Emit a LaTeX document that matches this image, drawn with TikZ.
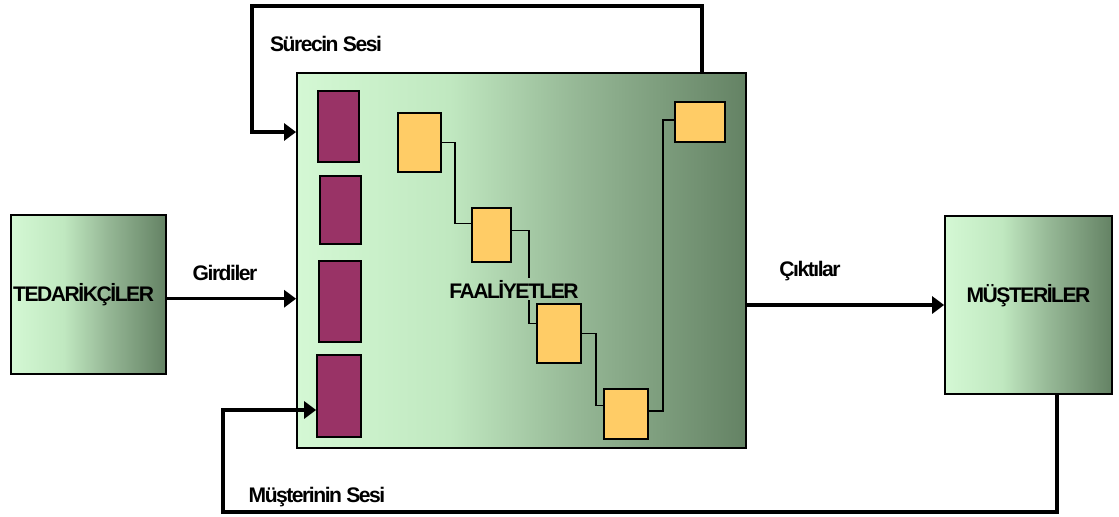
\documentclass[tikz,border=0pt]{standalone}
\usepackage{fontspec}
\setmainfont{Liberation Sans}
\newfontfamily\boxfont[LetterSpace=-7]{Liberation Sans}
\usetikzlibrary{arrows.meta}

\definecolor{g0}{RGB}{212,248,212}
\definecolor{g1}{RGB}{192,232,192}
\definecolor{g2}{RGB}{150,184,150}
\definecolor{g3}{RGB}{100,130,100}
\definecolor{plum}{RGB}{153,51,102}
\definecolor{ochre}{RGB}{255,204,102}
\pgfdeclarehorizontalshading{greenpanel}{100bp}{color(0bp)=(g0); color(25bp)=(g0); color(42bp)=(g1); color(56bp)=(g2); color(75bp)=(g3); color(100bp)=(g3)}

\begin{document}
\begin{tikzpicture}[x=0.025cm,y=-0.025cm]
\tikzstyle{every node}=[inner sep=0pt]
\tikzstyle{panel}=[draw,line width=1.2pt,shade,shading=greenpanel]
\tikzstyle{cell}=[draw,line width=1.2pt,fill=plum]
\tikzstyle{act}=[draw,line width=1.2pt,fill=ochre]
\tikzstyle{txt}=[font=\boxfont\bfseries\fontsize{15}{17}\selectfont]
\tikzstyle{flow}=[line width=2.2pt,-{Triangle[length=8.5pt,width=12pt]}]
\tikzstyle{link}=[line width=1pt]

\useasboundingbox (0,0) rectangle (1119,516);

\node[panel,minimum width=3.875cm,minimum height=3.975cm,label={[txt,xshift=-3.5pt]center:TEDARİKÇİLER}] (sup) at (88.5,294.5) {};
\node[panel,minimum width=4.175cm,minimum height=4.45cm,label={[txt,yshift=7pt]center:MÜŞTERİLER}] (cust) at (1028.5,305) {};
\node[panel,minimum width=11.225cm,minimum height=9.375cm] (frame) at (521.5,260.5) {};

\node[cell,minimum width=1.025cm,minimum height=1.775cm] (p1) at (338.5,126.5) {};
\node[cell,minimum width=1.025cm,minimum height=1.7cm] (p2) at (340.5,210) {};
\node[cell,minimum width=1.05cm,minimum height=2.025cm] (p3) at (340,301.5) {};
\node[cell,minimum width=1.1cm,minimum height=2.05cm] (p4) at (339,396) {};

\node[act,minimum width=1.075cm,minimum height=1.475cm] (a1) at (419.5,142.5) {};
\node[act,minimum width=0.975cm,minimum height=1.35cm] (a2) at (491.5,235) {};
\node[act,minimum width=1.1cm,minimum height=1.475cm] (a3) at (559,333.5) {};
\node[act,minimum width=1.1cm,minimum height=1.25cm] (a4) at (626,414) {};
\node[act,minimum width=1.25cm,minimum height=1cm] (a5) at (700,122) {};

\draw[link] (a1.east) -- ++(13,0) |- ([yshift=8pt]a2.west);
\draw[link] ([yshift=3pt]a2.east) -- ++(17,0) |- ([yshift=7pt]a3.west);
\draw[link] (a3.east) -- ++(14,0) |- ([yshift=6pt]a4.west);
\draw[link] ([yshift=2pt]a4.east) -- ++(14,0) |- ([yshift=1.5pt]a5.west);

\node[txt,inner sep=1pt,path picture={\shade[shading=greenpanel] (frame.north west) rectangle (frame.south east);}] (actlbl) at (514,289) {FAALİYETLER};

\draw[flow] ([yshift=-3pt]sup.east) -- ([yshift=-3pt]sup.east -| frame.west);
\draw[flow] (frame.east |- cust.west) -- (cust.west);
\node[txt] (inlbl) at (225,273) {Girdiler};
\node[txt] (outlbl) at (810,271) {Çıktılar};

\coordinate (st) at (702,6);
\coordinate (sl) at (252,132);
\draw[flow] (st |- frame.north) -- (st) -| (sl) -- (sl -| frame.west);
\node[txt] (proclbl) at (326,44) {Sürecin Sesi};

\coordinate (mb) at (1057,512);
\coordinate (ml) at (223,410);
\draw[flow] (mb |- cust.south) -- (mb) -| (ml) -- (ml -| p4.west);
\node[txt] (custlbl) at (317,497) {Müşterinin Sesi};
\end{tikzpicture}
\end{document}
